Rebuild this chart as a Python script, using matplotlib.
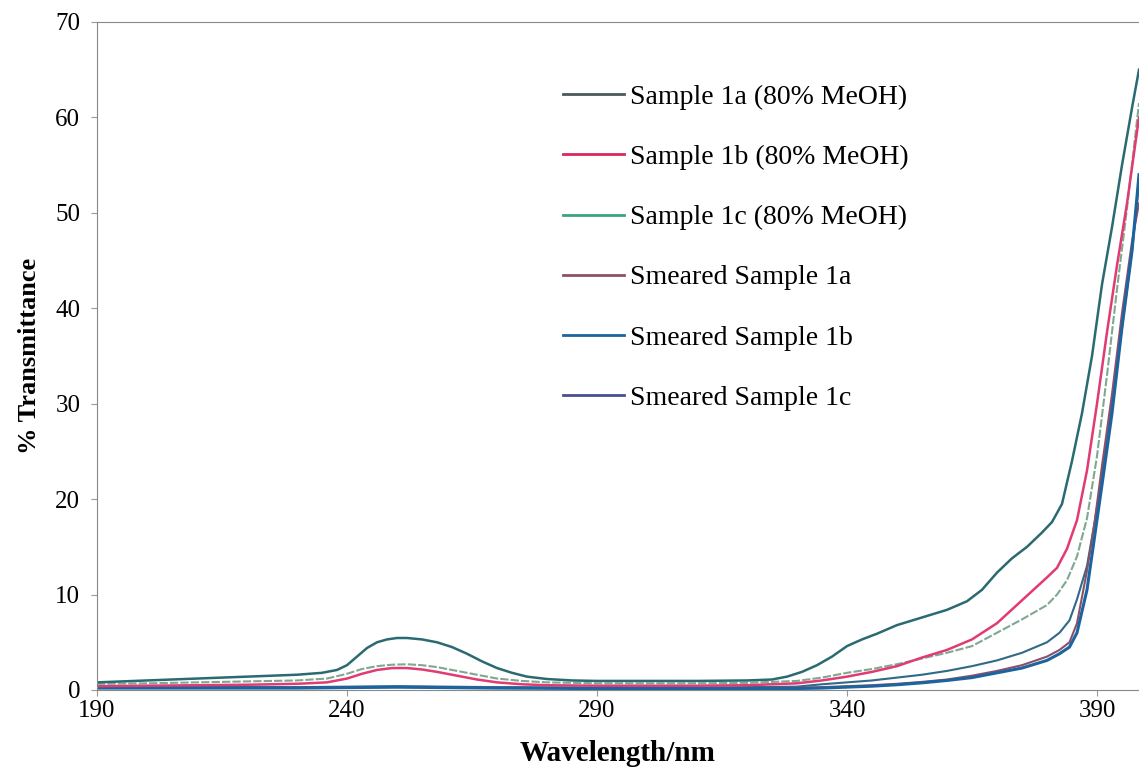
import matplotlib.pyplot as plt

plt.rcParams['font.family'] = ['Liberation Serif', 'DejaVu Serif']

wl_1a = [190, 200, 210, 220, 230, 235, 238, 240, 242, 244, 246, 248, 250, 252, 255,
         258, 261, 264, 267, 270, 273, 276, 280, 285, 290, 300, 310, 320, 325, 328,
         331, 334, 337, 340, 343, 346, 350, 355, 360, 364, 367, 370, 373, 376, 379,
         381, 383, 385, 387, 389, 391, 393, 395, 397, 398.4]
t_1a = [0.8, 1.0, 1.2, 1.4, 1.6, 1.8, 2.1, 2.6, 3.5, 4.4, 5.0, 5.3, 5.45, 5.45, 5.3,
        5.0, 4.5, 3.8, 3.0, 2.3, 1.8, 1.4, 1.15, 1.0, 0.95, 0.95, 0.95, 1.0, 1.1, 1.4,
        1.9, 2.6, 3.5, 4.6, 5.3, 5.9, 6.8, 7.6, 8.4, 9.3, 10.5, 12.3, 13.8, 15.0, 16.5,
        17.6, 19.5, 24.0, 29.0, 35.0, 42.5, 48.5, 55.0, 61.0, 65.0]

wl_1bc = [190, 200, 210, 220, 230, 236, 240, 243, 246, 249, 252, 255, 258, 262, 266,
          270, 275, 280, 290, 300, 310, 320, 330, 335, 340, 345, 350, 355, 360, 365,
          370, 375, 380, 382, 384, 386, 388, 390, 392, 394, 396, 398.4]
t_1b = [0.4, 0.45, 0.5, 0.55, 0.65, 0.8, 1.2, 1.7, 2.1, 2.3, 2.3, 2.15, 1.9, 1.5, 1.1,
        0.8, 0.6, 0.5, 0.45, 0.45, 0.45, 0.5, 0.7, 1.0, 1.4, 1.9, 2.5, 3.4, 4.2, 5.3,
        7.0, 9.4, 11.8, 12.8, 14.8, 17.8, 23.0, 30.0, 37.5, 44.5, 51.0, 60.0]
t_1c = [0.65, 0.7, 0.8, 0.9, 1.0, 1.2, 1.7, 2.2, 2.5, 2.65, 2.7, 2.6, 2.4, 2.0, 1.6,
        1.2, 0.95, 0.8, 0.7, 0.7, 0.7, 0.75, 0.95, 1.3, 1.8, 2.2, 2.7, 3.3, 3.9, 4.6,
        6.0, 7.4, 8.9, 10.0, 11.5, 14.0, 18.0, 24.5, 33.0, 42.0, 50.5, 61.5]

wl_sm = [190, 210, 230, 250, 270, 290, 310, 330, 335, 340, 345, 350, 355, 360, 365,
         370, 375, 380, 382.5, 384.5, 386, 388, 389.5, 391, 393, 395, 397, 398.4]
t_sm1a = [0.25, 0.25, 0.25, 0.3, 0.25, 0.2, 0.2, 0.25, 0.3, 0.4, 0.5, 0.65, 0.85, 1.1,
          1.5, 2.0, 2.6, 3.5, 4.2, 5.0, 7.0, 12.5, 17.5, 23.5, 31.0, 39.5, 47.0, 51.0]
t_sm1b = [0.2, 0.2, 0.2, 0.3, 0.2, 0.15, 0.15, 0.15, 0.2, 0.3, 0.4, 0.55, 0.75, 1.0,
          1.3, 1.8, 2.3, 3.1, 3.8, 4.5, 6.0, 10.5, 16.0, 21.5, 29.0, 38.0, 46.0, 54.0]
t_sm1c = [0.35, 0.35, 0.3, 0.4, 0.3, 0.25, 0.25, 0.35, 0.6, 0.8, 1.0, 1.3, 1.6, 2.0,
          2.5, 3.1, 3.9, 5.0, 6.0, 7.3, 9.5, 13.0, 17.5, 22.5, 30.0, 38.0, 46.0, 53.0]

labels = ['Sample 1a (80% MeOH)', 'Sample 1b (80% MeOH)', 'Sample 1c (80% MeOH)',
          'Smeared Sample 1a', 'Smeared Sample 1b', 'Smeared Sample 1c']
legend_colors = ['#4a5a5c', '#d8285a', '#3ca47c', '#8a5068', '#1c64a0', '#4a4e92']

fig = plt.figure(figsize=(11.39, 7.74), dpi=100)
ax = fig.add_axes([97 / 1139, 84 / 774, 1042 / 1139, 668 / 774])

# curves as they look in the scan
ax.plot(wl_sm, t_sm1c, color='#2f6a86', lw=1.5)
ax.plot(wl_sm, t_sm1a, color='#8a5068', lw=1.5)
ax.plot(wl_sm, t_sm1b, color='#1c64a0', lw=2.2)
ax.plot(wl_1bc, t_1c, color='#7fa890', lw=1.5, ls=(0, (4, 1)))
ax.plot(wl_1bc, t_1b, color='#e23a72', lw=1.8)
ax.plot(wl_1a, t_1a, color='#2a6a70', lw=1.8)

handles = [plt.Line2D([], [], color=c, lw=2) for c in legend_colors]
ax.legend(handles, labels, loc='upper left', bbox_to_anchor=(0.4365, 0.923),
          frameon=False, fontsize=20, handlelength=2.2, handletextpad=0.2,
          labelspacing=1.25, borderaxespad=0)

ax.set_xlim(190, 398.4)
ax.set_ylim(0, 70)
ax.set_xticks([190, 240, 290, 340, 390])
ax.set_yticks(range(0, 71, 10))
ax.tick_params(labelsize=18, length=4, color='#999999')
ax.tick_params(axis='x', pad=3)
ax.tick_params(axis='y', pad=8)
for side in ['left', 'bottom', 'top']:
    ax.spines[side].set_color('#888888')
ax.spines['right'].set_visible(False)

ax.set_xlabel('Wavelength/nm', fontsize=21, fontweight='bold', labelpad=13)
ax.set_ylabel('% Transmittance', fontsize=19, fontweight='bold', labelpad=10)

fig.savefig('out.png', dpi=100)
